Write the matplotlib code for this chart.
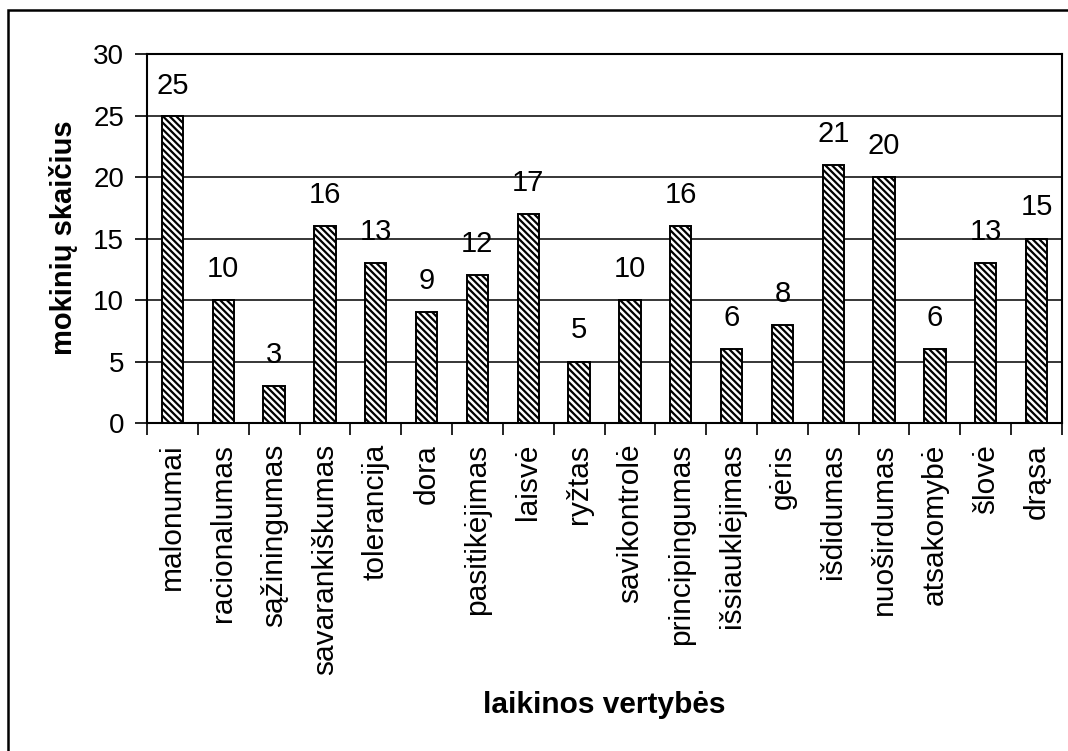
import numpy as np
import matplotlib
matplotlib.use("Agg")
import matplotlib.pyplot as plt
from matplotlib.patches import Rectangle

plt.rcParams["font.family"] = ["Liberation Sans", "DejaVu Sans"]
plt.rcParams["hatch.linewidth"] = 1.6

# duomenys
categories = [
    "malonumai", "racionalumas", "sąžiningumas", "savarankiškumas",
    "tolerancija", "dora", "pasitikėjimas", "laisvė", "ryžtas",
    "savikontrolė", "principingumas", "išsiauklėjimas", "gėris",
    "išdidumas", "nuoširdumas", "atsakomybė", "šlovė", "drąsa",
]
counts = [25, 10, 3, 16, 13, 9, 12, 17, 5, 10, 16, 6, 8, 21, 20, 6, 13, 15]
y_ticks = [0, 5, 10, 15, 20, 25, 30]

W, H = 1068, 751
fig = plt.figure(figsize=(W / 100, H / 100), dpi=100)
ax = fig.add_axes([147 / W, 1 - 423 / H, (1062 - 147) / W, (423 - 54) / H])

x = np.arange(len(categories))
ax.bar(x, counts, width=0.42, color="white", edgecolor="black",
       linewidth=1.4, hatch="\\" * 5, zorder=3)

# reikšmės virš stulpelių
for xi, v in zip(x, counts):
    ypos = min(v + 1.87, 26.75)
    ax.text(xi, ypos, str(v), ha="center", va="baseline", fontsize=21, zorder=4)

ax.set_xlim(-0.5, len(categories) - 0.5)
ax.set_ylim(0, 30)
ax.set_yticks(y_ticks)
ax.tick_params(axis="y", labelsize=20, length=8.5, width=1.2, pad=8)

ax.set_xticks(x)
ax.set_xticklabels(categories, rotation=90, fontsize=21.5, va="top", ha="center")
ax.tick_params(axis="x", which="major", length=0, pad=15)
ax.set_xticks(np.arange(len(categories) + 1) - 0.5, minor=True)
ax.tick_params(axis="x", which="minor", length=8.5, width=1.2)

ax.yaxis.grid(True, color="black", linewidth=1.1, zorder=1)
ax.set_axisbelow(True)
for s in ax.spines.values():
    s.set_linewidth(1.5)
    s.set_color("black")

fig.text(63 / W, 1 - 238 / H, "mokinių skaičius", rotation=90, ha="center",
         va="center", fontsize=21, fontweight="bold")
fig.text(604 / W, 1 - 713 / H, "laikinos vertybės", ha="center",
         va="baseline", fontsize=21.5, fontweight="bold")

# išorinis rėmelis
fig.patches.append(Rectangle((8 / W, -0.05), 1.1, 1 - 10 / H + 0.05,
                             transform=fig.transFigure, fill=False,
                             edgecolor="black", linewidth=1.8))

fig.savefig("out.png", dpi=100)
